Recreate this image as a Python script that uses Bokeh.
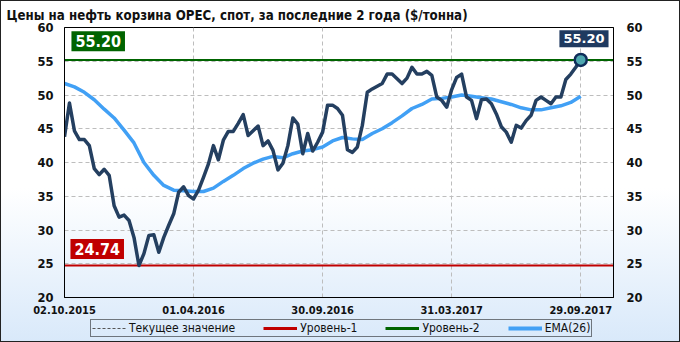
from bokeh.plotting import figure
from bokeh.layouts import column
from bokeh.models import (Range1d, LinearAxis, FixedTicker, Label, Legend, LegendItem,
                          ColumnDataSource)
from bokeh.embed import file_html
from bokeh.resources import INLINE

title_text = "Цены на нефть корзина OPEC,  спот, за последние  2 года ($/тонна)"

# weekly observations: week 0 = 02.10.2015 ... week 104 = 29.09.2017
week_index = list(range(105))
price = [
    43.8, 48.8, 44.7, 43.4, 43.4, 42.5, 39.1, 38.2, 39.0, 38.1,
    33.6, 31.9, 32.2, 31.4, 28.9, 24.74, 26.5, 29.2, 29.3, 26.7,
    28.9, 30.7, 32.4, 35.6, 36.4, 35.1, 34.6, 35.9, 37.8, 39.8,
    42.5, 40.4, 43.3, 44.6, 44.6, 45.8, 47.1, 44.0, 44.7, 45.4,
    42.5, 43.2, 41.8, 38.9, 39.9, 42.5, 46.6, 45.7, 41.3, 44.3,
    41.7, 43.0, 44.5, 48.5, 48.5, 48.0, 47.0, 41.9, 41.5, 42.3,
    45.5, 50.4, 50.9, 51.3, 51.7, 53.1, 53.1, 52.4, 51.7, 52.5,
    54.1, 53.1, 53.1, 53.5, 52.9, 49.7, 49.2, 48.2, 50.8, 52.6,
    53.1, 49.7, 49.2, 46.5, 49.3, 49.4, 48.7, 47.2, 45.3, 44.5,
    43.0, 45.5, 45.1, 46.2, 47.0, 49.2, 49.7, 49.2, 48.7, 49.7,
    49.7, 52.3, 53.1, 54.1, 55.20,
]

ema_weeks = list(range(0, 105, 2))
ema_values = [
    51.7, 51.2, 50.4, 49.3, 47.9, 46.6, 44.8, 42.9, 40.0, 38.1,
    36.6, 35.9, 35.8, 35.7, 35.7, 36.2, 37.2, 38.1, 39.1, 39.9,
    40.5, 40.9, 40.7, 41.3, 41.7, 41.9, 42.3, 43.2, 43.7, 43.5,
    43.4, 44.3, 45.0, 45.9, 46.9, 48.0, 48.6, 49.4, 49.5, 49.7,
    50.0, 49.8, 49.6, 49.4, 49.0, 48.6, 48.1, 47.8, 47.8, 48.1,
    48.4, 48.9, 49.8,
]

tick_weeks = [0, 26, 52, 78, 104]
tick_labels = ["02.10.2015", "01.04.2016", "30.09.2016", "31.03.2017", "29.09.2017"]
y_ticks = [20, 25, 30, 35, 40, 45, 50, 55, 60]

level1 = 24.74
level2 = 55.20
current_value = 55.20
current_week = 104

legend_labels = ["Текущее значение", "Уровень-1", "Уровень-2", "EMA(26)"]

NAVY = "#243f60"
EMA_COL = "#41a0f5"
RED = "#c00000"
GREEN = "#006400"
CUR_COL = "#555555"
X_END = 110.6
NAN = float("nan")

p = figure(frame_width=549, frame_height=270, output_backend="svg", toolbar_location=None,
           x_range=Range1d(0, X_END), y_range=Range1d(20, 60),
           min_border_left=63, min_border_right=66, min_border_top=26, min_border_bottom=22)
p.background_fill_alpha = 0
p.border_fill_alpha = 0
p.outline_line_color = "black"
p.outline_line_width = 1

p.title.text = title_text
p.title.text_font = "DejaVu Sans Condensed"
p.title.text_font_style = "bold"
p.title.text_font_size = "13.2px"
p.title.text_color = "#111111"
p.title.align = "left"
p.title.offset = -58
p.title.standoff = 9

# axes
p.xaxis.ticker = FixedTicker(ticks=tick_weeks)
p.xaxis.major_label_overrides = {w: l for w, l in zip(tick_weeks, tick_labels)}
p.yaxis.ticker = FixedTicker(ticks=y_ticks)
right = LinearAxis(ticker=FixedTicker(ticks=y_ticks))
p.add_layout(right, "right")

for ax in [p.xaxis[0], p.yaxis[0], right]:
    ax.axis_line_color = "black"
    ax.major_tick_line_color = None
    ax.minor_tick_line_color = None
    ax.major_tick_out = 0
    ax.major_tick_in = 0
    ax.minor_tick_out = 0
    ax.major_label_text_font_style = "bold"
    ax.major_label_text_color = "#111111"

p.xaxis.major_label_text_font = "DejaVu Sans Condensed"
p.xaxis.major_label_text_font_size = "11px"
p.xaxis.major_label_standoff = 8
for ax in [p.yaxis[0], right]:
    ax.major_label_text_font = "DejaVu Sans"
    ax.major_label_text_font_size = "11.5px"
p.yaxis.major_label_standoff = 11
right.major_label_standoff = 13

p.xgrid.ticker = FixedTicker(ticks=tick_weeks)
p.ygrid.ticker = FixedTicker(ticks=y_ticks)
for g in [p.xgrid[0], p.ygrid[0]]:
    g.grid_line_color = "#bdbdbd"
    g.grid_line_dash = "4 3"
    g.grid_line_width = 1

src = ColumnDataSource(dict(x=week_index, y=price))
ema_src = ColumnDataSource(dict(x=ema_weeks, y=ema_values))

p.line(x=[0, X_END], y=[current_value, current_value], line_color=CUR_COL,
       line_dash="3 2", line_width=1)
p.line(x=[0, X_END], y=[level1, level1], line_color=RED, line_width=2)
p.line(x=[0, X_END], y=[level2, level2], line_color=GREEN, line_width=2)
p.line("x", "y", source=ema_src, line_color=EMA_COL, line_width=3.5)
p.line("x", "y", source=src, line_color=NAVY, line_width=3.5, line_join="round")
p.scatter(x=[current_week], y=[current_value], size=12, fill_color="#4fa8b0",
          line_color="#0f2d5a", line_width=2.5)

# value labels
lab_style = dict(text_color="white", text_font_style="bold", text_baseline="top")
p.add_layout(Label(x=1.4, y=59.45, text=f"{level2:.2f}", text_font_size="16px",
                   text_font="DejaVu Sans Condensed", text_align="left",
                   background_fill_color=GREEN, padding=4, **lab_style))
p.add_layout(Label(x=1.2, y=28.65, text=f"{level1:.2f}", text_font_size="16px",
                   text_font="DejaVu Sans Condensed", text_align="left",
                   background_fill_color=RED, padding=4, **lab_style))
p.add_layout(Label(x=109.6, y=59.6, text=f"{current_value:.2f}", text_font_size="13px",
                   text_font="DejaVu Sans", text_align="right",
                   background_fill_color="#1f3a60", padding=4, **lab_style))

# legend strip
q = figure(frame_width=678, frame_height=22, output_backend="svg", toolbar_location=None,
           x_range=Range1d(0, 678), y_range=Range1d(0, 22),
           x_axis_type=None, y_axis_type=None,
           min_border_left=0, min_border_right=0, min_border_top=0, min_border_bottom=0)
q.background_fill_alpha = 0
q.border_fill_alpha = 0
q.outline_line_color = None
q.grid.visible = False
l_cur = q.line(x=[NAN, NAN], y=[NAN, NAN], line_color=CUR_COL, line_dash="3 2", line_width=1)
l_l1 = q.line(x=[NAN, NAN], y=[NAN, NAN], line_color=RED, line_width=3)
l_l2 = q.line(x=[NAN, NAN], y=[NAN, NAN], line_color=GREEN, line_width=3)
l_ema = q.line(x=[NAN, NAN], y=[NAN, NAN], line_color=EMA_COL, line_width=4)
legend = Legend(items=[LegendItem(label=legend_labels[0], renderers=[l_cur]),
                       LegendItem(label=legend_labels[1], renderers=[l_l1]),
                       LegendItem(label=legend_labels[2], renderers=[l_l2]),
                       LegendItem(label=legend_labels[3], renderers=[l_ema])],
                orientation="horizontal", location=(84, 4),
                glyph_width=34, glyph_height=10, label_height=12, label_standoff=3, spacing=28,
                padding=6, margin=0,
                label_text_font="DejaVu Sans Condensed", label_text_font_size="12px",
                label_text_color="#111111",
                border_line_color="black", border_line_width=1, background_fill_alpha=0)
legend.padding = 1
legend.location = (89, 4)
q.add_layout(legend)

layout = column(p, q, spacing=0)
layout.styles = {"background": "linear-gradient(to bottom, #ffffff 0%, #ffffff 55%, #d9e9fa 100%)",
                 "border": "1px solid #222222"}

open("out.html", "w").write(file_html(layout, INLINE))
